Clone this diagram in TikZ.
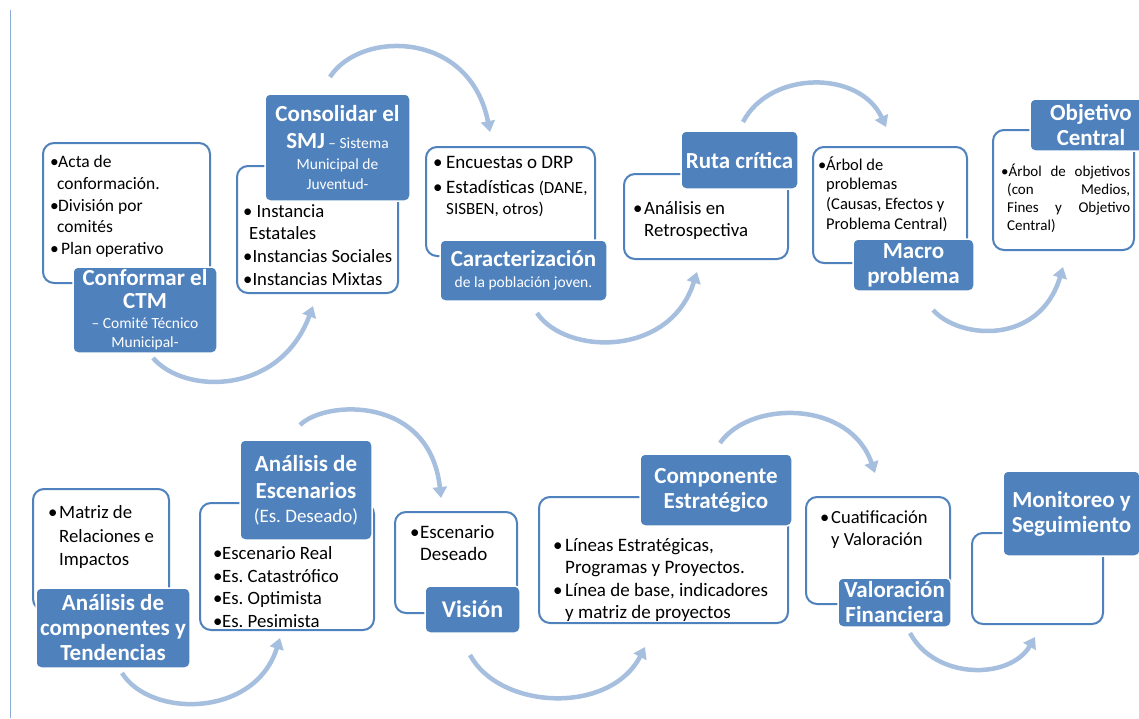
\documentclass[tikz,border=0pt]{standalone}
\usepackage{fontspec}
\setmainfont{Carlito}
\usetikzlibrary{arrows.meta}
\definecolor{mblue}{RGB}{79,129,189}
\definecolor{abl}{RGB}{167,191,222}
\definecolor{vline}{RGB}{140,172,214}
\newcommand\myfs[2]{\fontsize{#1}{#2}\selectfont}
\newcommand\mybul[1]{\makebox[#1][l]{•}}
\frenchspacing
\begin{document}
\begin{tikzpicture}[x=1pt,y=-1pt,
 outbox/.style={draw=mblue, line width=2pt, rounded corners=11pt, fill=white, inner sep=0pt},
 bluebox/.style={fill=mblue, draw=white, line width=1.5pt, rounded corners=5pt, text=white, align=center, inner sep=0pt},
 ttl/.style={font=\myfs{23}{25}\bfseries},
 body/.style={anchor=north west, inner sep=0pt, align=left, text=black, execute at begin node=\strut, yshift=-2.5pt},
 arr/.style={draw=abl, line width=4.5pt, -{Triangle[width=14pt,length=11pt]}}]
\useasboundingbox (0,0) rectangle (1139,718);
\fill[white] (0,0) rectangle (1139,718);
\draw[vline, line width=1.5pt] (10.5,10) -- (10.5,718);

% arrow end points
\coordinate (a1s) at (153,358);  \coordinate (a1e) at (313,306);
\coordinate (a2s) at (330,77);   \coordinate (a2e) at (490,132);
\coordinate (a3s) at (537,313);  \coordinate (a3e) at (697,272);
\coordinate (a4s) at (743,122);  \coordinate (a4e) at (886,127);
\coordinate (a5s) at (933,310);  \coordinate (a5e) at (1063,267);
\coordinate (a7s) at (122,673);  \coordinate (a7e) at (280,638);
\coordinate (a8s) at (300,425);  \coordinate (a8e) at (441,498);
\coordinate (a9s) at (470,655);  \coordinate (a9e) at (645,647);
\coordinate (a10s) at (720,443); \coordinate (a10e) at (875,473);
\coordinate (a11s) at (910,633); \coordinate (a11e) at (1035,637);

\draw[arr] (a1s) .. controls (185,395) and (280,395) .. (a1e);
\draw[arr] (a2s) .. controls (360,30) and (470,30) .. (a2e);
\draw[arr] (a3s) .. controls (565,355) and (670,358) .. (a3e);
\draw[arr] (a4s) .. controls (770,70) and (860,70) .. (a4e);
\draw[arr] (a5s) .. controls (960,340) and (1040,345) .. (a5e);
\draw[arr] (a7s) .. controls (150,718) and (255,718) .. (a7e);
\draw[arr] (a8s) .. controls (325,400) and (430,395) .. (a8e);
\draw[arr] (a9s) .. controls (500,710) and (610,715) .. (a9e);
\draw[arr] (a10s) .. controls (750,400) and (850,400) .. (a10e);
\draw[arr] (a11s) .. controls (935,680) and (1010,680) .. (a11e);

% Box 1
\node[outbox, minimum width=167pt, minimum height=140pt] (o1) at (126.5,213) {};
\node[body, font=\myfs{17.5}{21.8}] (t1) at (50,152.7) {\mybul{8pt}Acta de\\\hspace*{7pt}conformación.\\\mybul{8pt}División por\\\hspace*{7pt}comités\\\mybul{11pt}Plan operativo};
\node[bluebox, minimum width=144pt, minimum height=86pt, font=\myfs{15.5}{19}] (b1) at (145,310) {{\myfs{23}{25}\bfseries Conformar el}\\[4pt]{\myfs{23}{25}\bfseries CTM}\\[1pt]– Comité Técnico\\Municipal-};

% Box 2
\node[outbox, minimum width=161pt, minimum height=127pt] (o2) at (317.5,229.5) {};
\node[body, font=\myfs{18.7}{22.7}] (t2) at (243,201.6) {• Instancia\\\hspace*{6pt}Estatales\\•Instancias Sociales\\•Instancias Mixtas};
\node[bluebox, minimum width=145pt, minimum height=107pt, font=\myfs{15.5}{20.5}] (b2) at (337.5,147.5) {{\myfs{23}{25}\bfseries Consolidar el}\\[7pt]{\myfs{23}{25}\bfseries SMJ} – Sistema\\Municipal de\\Juventud-};

% Box 3
\node[outbox, minimum width=169pt, minimum height=109pt] (o3) at (510.5,201.5) {};
\node[body, font=\myfs{19}{21}] (t3) at (433,153.8) {\mybul{13pt}Encuestas o DRP\\[4pt]\mybul{13pt}Estadísticas {\myfs{17}{21}(DANE,}\\\hspace*{13pt}{\myfs{17}{21}SISBEN, otros)}};
\node[bluebox, minimum width=167pt, minimum height=61pt, font=\myfs{15.5}{20.5}] (b3) at (523.5,270.5) {{\myfs{23}{25}\bfseries Caracterización}\\de la población joven.};

% Box 4
\node[outbox, minimum width=164pt, minimum height=85pt] (o4) at (706,216.5) {};
\node[body, font=\myfs{18.8}{22}] (t4) at (633,199.1) {\mybul{11pt}Análisis en\\\hspace*{11pt}Retrospectiva};
\node[bluebox, ttl, minimum width=117pt, minimum height=58pt] (b4) at (739.5,160) {Ruta crítica};

% Box 5
\node[outbox, minimum width=154pt, minimum height=116pt] (o5) at (890,205) {};
\node[body, font=\myfs{16.5}{19.7}] (t5) at (818,153.7) {\mybul{8pt}Árbol de\\\hspace*{8pt}problemas\\\hspace*{8pt}(Causas, Efectos y\\\hspace*{8pt}Problema Central)};
\node[bluebox, ttl, minimum width=121pt, minimum height=52pt] (b5) at (913.5,265) {Macro\\problema};

% Box 6
\node[outbox, minimum width=141pt, minimum height=120pt] (o6) at (1063.5,190) {};
\node[body, font=\myfs{15}{18}] (t6) at (1001,161.4) {\makebox[129pt][s]{•Árbol de objetivos}\\\hspace*{6pt}\makebox[123pt][s]{(con Medios,}\\\hspace*{6pt}\makebox[123pt][s]{Fines y Objetivo}\\\hspace*{6pt}Central)};
\node[bluebox, ttl, minimum width=122pt, minimum height=52pt] (b6) at (1091,125) {Objetivo\\Central};

% Box 7
\node[outbox, minimum width=136pt, minimum height=121pt] (o7) at (101,549.5) {};
\node[body, font=\myfs{18.8}{23.5}] (t7) at (48,503) {\mybul{11pt}Matriz de\\\hspace*{11pt}Relaciones e\\\hspace*{11pt}Impactos};
\node[bluebox, ttl, minimum width=154pt, minimum height=80pt] (b7) at (113,628) {Análisis de\\componentes y\\Tendencias};

% Box 8
\node[outbox, minimum width=174pt, minimum height=127pt] (o8) at (287,566.5) {};
\node[body, font=\myfs{18.8}{22.7}] (t8) at (213,543.6) {\mybul{9pt}Escenario Real\\\mybul{9pt}Es. Catastrófico\\\mybul{9pt}Es. Optimista\\\mybul{9pt}Es. Pesimista};
\node[bluebox, minimum width=132pt, minimum height=100pt, font=\myfs{19}{24.5}] (b8) at (306,490) {{\myfs{23}{25}\bfseries Análisis de}\\[2.5pt]{\myfs{23}{25}\bfseries Escenarios}\\(Es. Deseado)};

% Box 9
\node[outbox, minimum width=122pt, minimum height=101pt] (o9) at (456,562.5) {};
\node[body, font=\myfs{19}{22}] (t9) at (410,523.1) {\mybul{10pt}Escenario\\\hspace*{10pt}Deseado};
\node[bluebox, minimum width=95pt, minimum height=47pt, font=\myfs{24}{26}\bfseries] (b9) at (472.5,609.5) {Visión};

% Box 10
\node[outbox, minimum width=249pt, minimum height=126pt] (o10) at (663.5,560) {};
\node[body, font=\myfs{19}{22.3}] (t10) at (553,535.9) {\mybul{12pt}Líneas Estratégicas,\\\hspace*{12pt}Programas y Proyectos.\\\mybul{12pt}Línea de base, indicadores\\\hspace*{12pt}y matriz de proyectos};
\node[bluebox, ttl, minimum width=152pt, minimum height=72pt] (b10) at (716,490) {Componente\\Estratégico};

% Box 11
\node[outbox, minimum width=144pt, minimum height=107pt] (o11) at (878,550.5) {};
\node[body, font=\myfs{18.5}{22}] (t11) at (820,507.9) {\mybul{11pt}Cuatificación\\\hspace*{11pt}y Valoración};
\node[bluebox, ttl, minimum width=113pt, minimum height=49pt] (b11) at (894.5,602.5) {Valoración\\Financiera};

% Box 12
\node[outbox, minimum width=131pt, minimum height=91pt] (o12) at (1037.5,578.5) {};
\node[bluebox, ttl, minimum width=137pt, minimum height=85pt] (b12) at (1071.5,513.5) {Monitoreo y\\Seguimiento};
\end{tikzpicture}
\end{document}
